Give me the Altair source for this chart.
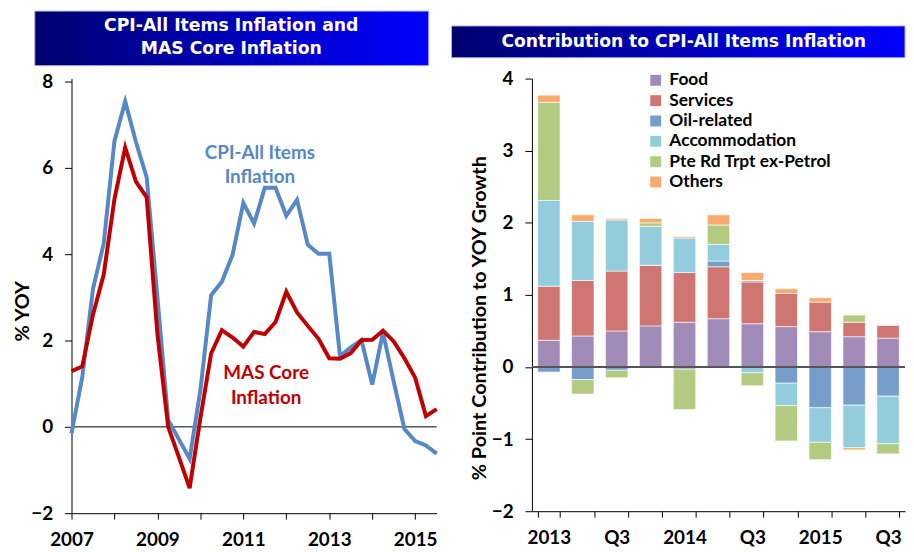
import altair as alt
import pandas as pd

# ---------------- data: left panel (quarterly % YOY) ----------------
quarters = ["2007Q1", "2007Q2", "2007Q3", "2007Q4", "2008Q1", "2008Q2", "2008Q3", "2008Q4",
            "2009Q1", "2009Q2", "2009Q3", "2009Q4", "2010Q1", "2010Q2", "2010Q3", "2010Q4",
            "2011Q1", "2011Q2", "2011Q3", "2011Q4", "2012Q1", "2012Q2", "2012Q3", "2012Q4",
            "2013Q1", "2013Q2", "2013Q3", "2013Q4", "2014Q1", "2014Q2", "2014Q3", "2014Q4",
            "2015Q1", "2015Q2", "2015Q3"]
cpi_all = [-0.15, 1.15, 3.2, 4.25, 6.62, 7.54, 6.6, 5.78, 3.0, 0.16, -0.29, -0.74, 0.85, 3.05,
           3.36, 3.99, 5.19, 4.71, 5.54, 5.54, 4.89, 5.26, 4.22, 4.01, 4.01, 1.64, 1.84, 2.01,
           0.98, 2.19, 1.05, -0.05, -0.33, -0.43, -0.62]
mas_core = [1.29, 1.40, 2.6, 3.53, 5.28, 6.47, 5.68, 5.32, 2.15, 0.0, -0.7, -1.42, 0.2, 1.7,
            2.24, 2.07, 1.86, 2.2, 2.15, 2.43, 3.13, 2.65, 2.34, 2.04, 1.59, 1.58, 1.71, 2.01,
            2.02, 2.23, 1.98, 1.59, 1.14, 0.25, 0.41]
line_series = ["CPI-All Items", "MAS Core"]
line_colors = ["#5687C6", "#C00000"]
left_y_ticks = [-2, 0, 2, 4, 6, 8]
left_x_labels = ["2007", "2009", "2011", "2013", "2015"]

# ---------------- data: right panel (contributions, % point) ----------------
bar_quarters = ["2013Q1", "2013Q2", "2013Q3", "2013Q4", "2014Q1", "2014Q2", "2014Q3",
                "2014Q4", "2015Q1", "2015Q2", "2015Q3"]
bar_tick_labels = ["2013", "", "Q3", "", "2014", "", "Q3", "", "2015", "", "Q3"]
components = ["Food", "Services", "Oil-related", "Accommodation", "Pte Rd Trpt ex-Petrol", "Others"]
food = [0.37, 0.43, 0.50, 0.57, 0.62, 0.67, 0.60, 0.56, 0.49, 0.42, 0.40]
services = [0.75, 0.77, 0.83, 0.84, 0.69, 0.72, 0.58, 0.46, 0.41, 0.20, 0.18]
oil = [-0.07, -0.175, -0.045, 0.0, -0.03, 0.08, 0.02, -0.225, -0.565, -0.53, -0.405]
accommodation = [1.19, 0.82, 0.71, 0.54, 0.48, 0.23, -0.08, -0.31, -0.48, -0.59, -0.66]
pte_rd = [1.36, -0.20, -0.105, 0.05, -0.56, 0.27, -0.18, -0.49, -0.24, 0.10, -0.14]
others = [0.10, 0.09, 0.02, 0.06, 0.02, 0.14, 0.11, 0.065, 0.06, -0.03, 0.0]
bar_colors = ["#A08AB8", "#CF7673", "#779DCB", "#93CDDD", "#B3CB80", "#F9AA6E"]
right_y_ticks = [-2, -1, 0, 1, 2, 3, 4]

FONT = "Lato"
BAND_FONT = "DejaVu Sans"

# ---------------- frames ----------------
t_vals = [int(q[:4]) + (int(q[-1]) - 1) / 4 for q in quarters]
line_df = pd.concat([
    pd.DataFrame({"t": t_vals, "value": cpi_all, "series": line_series[0]}),
    pd.DataFrame({"t": t_vals, "value": mas_core, "series": line_series[1]}),
])

series_vals = [food, services, oil, accommodation, pte_rd, others]
rows = []
for k, (name, vals) in enumerate(zip(components, series_vals)):
    for q, v in zip(bar_quarters, vals):
        rows.append({"quarter": q, "component": name, "order": k, "value": v})
bar_df = pd.DataFrame(rows)

one = pd.DataFrame({"z": [0]})

band_fill = alt.LinearGradient(
    gradient="linear",
    stops=[alt.GradientStop(color="#000070", offset=0),
           alt.GradientStop(color="#0000FF", offset=1)],
    x1=0, x2=1, y1=0, y2=0,
)

# ---------------- left panel ----------------
LW, LH = 368, 438
left_domain = [-2, 8.07]
x_label_expr = ("indexof(" + str(left_x_labels) + ", format(datum.value, 'd')) >= 0 "
                "&& datum.value % 1 == 0 ? format(datum.value, 'd') : ''")

xl = alt.X("t:Q",
           scale=alt.Scale(domain=[2007, 2015.5], nice=False, zero=False),
           axis=alt.Axis(values=[2007 + 0.5 * k for k in range(18)], labelExpr=x_label_expr,
                         labelFlush=False, title=None, tickSize=6, labelPadding=12, grid=False))
yl = alt.Y("value:Q",
           scale=alt.Scale(domain=left_domain, nice=False, zero=False),
           axis=alt.Axis(values=left_y_ticks, title="% YOY", titleX=-43, titleY=234,
                         titleBaseline="alphabetic", titleAngle=270, titleFontSize=20,
                         format="d", tickSize=7, labelPadding=12, grid=False))

left_band = alt.Chart(one).mark_rect(fill=band_fill, stroke="#B0B0E0", strokeWidth=1).encode(
    x=alt.value(-37), x2=alt.value(360), y=alt.value(-68), y2=alt.value(-13))
left_band_text = alt.Chart(one).mark_text(
    text="CPI-All Items Inflation and\nMAS Core Inflation", lineBreak="\n", lineHeight=23.5,
    font=BAND_FONT, fontWeight="bold", fontSize=17.4, color="white", align="center",
    baseline="middle").encode(x=alt.value(161), y=alt.value(-53))

zero_left = alt.Chart(one).mark_rule(color="black", strokeWidth=1).encode(
    y=alt.Y("z:Q", scale=alt.Scale(domain=left_domain, nice=False, zero=False)))

lines = alt.Chart(line_df).mark_line(strokeWidth=4, strokeJoin="miter").encode(
    x=xl, y=yl,
    color=alt.Color("series:N", scale=alt.Scale(domain=line_series, range=line_colors), legend=None))

label_df = pd.DataFrame({
    "t": [2011.385, 2011.385, 2011.53, 2011.53],
    "value": [6.35, 5.78, 1.24, 0.67],
    "text": ["CPI-All Items", "Inflation", "MAS Core", "Inflation"],
    "series": [line_series[0], line_series[0], line_series[1], line_series[1]],
})
line_labels = alt.Chart(label_df).mark_text(font=FONT, fontWeight="bold", fontSize=19,
                                            align="center", baseline="middle").encode(
    x=alt.X("t:Q", scale=alt.Scale(domain=[2007, 2015.5], nice=False, zero=False)),
    y=alt.Y("value:Q", scale=alt.Scale(domain=left_domain, nice=False, zero=False)),
    text="text:N",
    color=alt.Color("series:N", scale=alt.Scale(domain=line_series, range=line_colors), legend=None))

left = alt.layer(left_band, left_band_text, zero_left, lines, line_labels).properties(width=LW, height=LH)

# ---------------- right panel ----------------
RW, RH = 376, 436
right_domain = [-2, 4]
label_map = "{" + ",".join("'%s':'%s'" % (q, l) for q, l in zip(bar_quarters, bar_tick_labels)) + "}"

bars = alt.Chart(bar_df).mark_bar(stroke="white", strokeWidth=1, strokeOpacity=0.6).encode(
    x=alt.X("quarter:N", sort=bar_quarters,
            scale=alt.Scale(paddingInner=0.34, paddingOuter=0.17),
            axis=alt.Axis(title=None, labelAngle=0, labelExpr=label_map + "[datum.value]",
                          tickBand="extent", tickSize=6, labelPadding=12, grid=False)),
    y=alt.Y("sum(value):Q", stack="zero",
            scale=alt.Scale(domain=right_domain, nice=False, zero=False),
            axis=alt.Axis(values=right_y_ticks, title="% Point Contribution to YOY Growth",
                          titleX=-47, titleY=241, titleBaseline="alphabetic", titleAngle=270,
                          titleFontSize=20, format="d", tickSize=7, labelPadding=12, grid=False)),
    color=alt.Color("component:N", scale=alt.Scale(domain=components, range=bar_colors),
                    legend=alt.Legend(title=None, orient="none", legendX=116, legendY=-7,
                                      symbolType="square", symbolSize=121, symbolStrokeWidth=0,
                                      labelFont=FONT, labelFontWeight="bold", labelFontSize=17.5,
                                      labelColor="black", labelOffset=5, rowPadding=1.5,
                                      labelLimit=400, padding=0, symbolOpacity=1)),
    order=alt.Order("order:Q", sort="ascending"),
)

zero_right = alt.Chart(one).mark_rule(color="#555555", strokeWidth=2).encode(
    y=alt.Y("z:Q", scale=alt.Scale(domain=right_domain, nice=False, zero=False)))

right_band = alt.Chart(one).mark_rect(fill=band_fill, stroke="#B0B0E0", strokeWidth=1).encode(
    x=alt.value(-81), x2=alt.value(376), y=alt.value(-53), y2=alt.value(-21))
right_band_text = alt.Chart(one).mark_text(
    text="Contribution to CPI-All Items Inflation",
    font=BAND_FONT, fontWeight="bold", fontSize=17.3, color="white", align="center",
    baseline="middle").encode(x=alt.value(153), y=alt.value(-37))

right = alt.layer(right_band, right_band_text, bars, zero_right).properties(width=RW, height=RH)

chart = alt.hconcat(left, right, spacing=6).properties(
    padding={"left": 5, "top": 0, "right": 0, "bottom": 0}
).resolve_scale(
    color="independent", x="independent", y="independent"
).configure_view(strokeWidth=0).configure_axis(
    labelFont=FONT, labelFontWeight="bold", labelFontSize=19, labelColor="black",
    titleFont=FONT, titleFontWeight="bold", titleFontSize=20, titleColor="black",
    domainColor="black", tickColor="black", domainWidth=1, tickWidth=1,
)

chart.save("out.html", embed_options={"renderer": "svg", "actions": False})
